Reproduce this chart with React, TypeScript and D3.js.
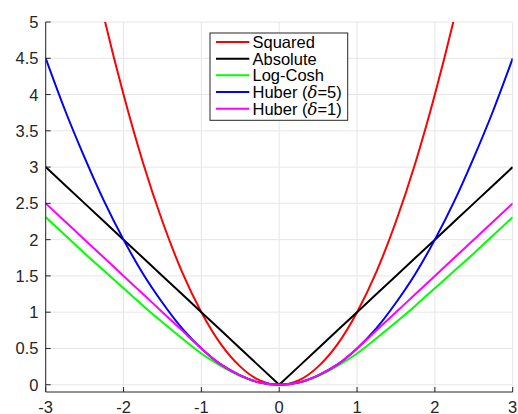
import React from "react";
import * as d3 from "d3";

const xValues = [-3, -2.75, -2.5, -2.25, -2, -1.75, -1.5, -1.25, -1, -0.75, -0.5, -0.25, 0, 0.25, 0.5, 0.75, 1, 1.25, 1.5, 1.75, 2, 2.25, 2.5, 2.75, 3];
const squared = [9, 7.56, 6.25, 5.06, 4, 3.06, 2.25, 1.56, 1, 0.56, 0.25, 0.06, 0, 0.06, 0.25, 0.56, 1, 1.56, 2.25, 3.06, 4, 5.06, 6.25, 7.56, 9];
const absolute = [3, 2.75, 2.5, 2.25, 2, 1.75, 1.5, 1.25, 1, 0.75, 0.5, 0.25, 0, 0.25, 0.5, 0.75, 1, 1.25, 1.5, 1.75, 2, 2.25, 2.5, 2.75, 3];
const logCosh = [2.31, 2.06, 1.81, 1.57, 1.33, 1.09, 0.86, 0.64, 0.43, 0.26, 0.12, 0.03, 0, 0.03, 0.12, 0.26, 0.43, 0.64, 0.86, 1.09, 1.33, 1.57, 1.81, 2.06, 2.31];
const huber5 = [4.5, 3.78, 3.13, 2.53, 2, 1.53, 1.13, 0.78, 0.5, 0.28, 0.13, 0.03, 0, 0.03, 0.13, 0.28, 0.5, 0.78, 1.13, 1.53, 2, 2.53, 3.13, 3.78, 4.5];
const huber1 = [2.5, 2.25, 2, 1.75, 1.5, 1.25, 1, 0.75, 0.5, 0.28, 0.13, 0.03, 0, 0.03, 0.13, 0.28, 0.5, 0.75, 1, 1.25, 1.5, 1.75, 2, 2.25, 2.5];

const xTicks = [-3, -2, -1, 0, 1, 2, 3];
const yTicks = [0, 0.5, 1, 1.5, 2, 2.5, 3, 3.5, 4, 4.5, 5];

const seriesNames = ["Squared", "Absolute", "Log-Cosh", "Huber (δ=5)", "Huber (δ=1)"];
const seriesValues = [squared, absolute, logCosh, huber5, huber1];
const seriesColors = ["#ff0000", "#000000", "#00ff00", "#0000ff", "#ff00ff"];

export default function App() {
  const W = 518, H = 414;
  const left = 45.7, right = 512.7, top = 22, bottom = 392;
  const x = d3.scaleLinear().domain([-3, 3]).range([left, right]);
  const y = d3.scaleLinear().domain([-0.1, 5]).range([bottom, top]);
  const axisColor = "#262626";
  const font = "'Liberation Sans', Arial, Helvetica, sans-serif";

  const makeLine = (i: number) => {
    const gen = d3
      .line<number>()
      .x((_, j) => x(xValues[j]))
      .y((v) => y(v))
      .curve(i === 1 ? d3.curveLinear : d3.curveMonotoneX);
    return gen(seriesValues[i]) || "";
  };

  const renderLabel = (name: string) => {
    const idx = name.indexOf("δ");
    if (idx < 0) return name;
    return (
      <>
        {name.slice(0, idx)}
        <tspan fontStyle="italic" fontFamily="'DejaVu Serif', serif">δ</tspan>
        {name.slice(idx + 1)}
      </>
    );
  };

  const legX = 210, legY = 33, legW = 137.7, legH = 87.3, rowH = 16.67;

  return (
    <svg width={W} height={H} style={{ position: "absolute", left: 0, top: 0, display: "block" }} fontFamily={font}>
      <rect x={0} y={0} width={W} height={H} fill="#ffffff" />
      <defs>
        <clipPath id="plotClip">
          <rect x={left} y={top} width={right - left} height={bottom - top} />
        </clipPath>
      </defs>
      {/* grid */}
      <g stroke="#e6e6e6" strokeWidth={1}>
        {xTicks.map((t) => (
          <line key={"gx" + t} x1={x(t)} x2={x(t)} y1={top} y2={bottom} />
        ))}
        {yTicks.map((t) => (
          <line key={"gy" + t} x1={left} x2={right} y1={y(t)} y2={y(t)} />
        ))}
      </g>
      {/* series */}
      <g clipPath="url(#plotClip)" fill="none" strokeWidth={2} strokeLinejoin="round">
        {seriesValues.map((_, i) => (
          <path key={i} d={makeLine(i)} stroke={seriesColors[i]} />
        ))}
      </g>
      {/* axes */}
      <g stroke={axisColor} strokeWidth={1} fill="none">
        <line x1={left} x2={left} y1={top} y2={bottom} />
        <line x1={left} x2={right} y1={bottom} y2={bottom} />
        {xTicks.map((t) => (
          <line key={"tx" + t} x1={x(t)} x2={x(t)} y1={bottom} y2={bottom - 5} />
        ))}
        {yTicks.map((t) => (
          <line key={"ty" + t} x1={left} x2={left + 5} y1={y(t)} y2={y(t)} />
        ))}
      </g>
      <g fill={axisColor} fontSize={16.5}>
        {xTicks.map((t) => (
          <text key={"lx" + t} x={x(t)} y={413} textAnchor="middle">
            {String(t)}
          </text>
        ))}
        {yTicks.map((t) => (
          <text key={"ly" + t} x={38.5} y={y(t)} textAnchor="end" dominantBaseline="central">
            {String(t)}
          </text>
        ))}
      </g>
      {/* legend */}
      <g>
        <rect x={legX} y={legY} width={legW} height={legH} fill="#ffffff" stroke="#262626" strokeWidth={1} />
        {seriesNames.map((name, i) => {
          const cy = 42 + i * rowH;
          return (
            <g key={name}>
              <line x1={216} x2={249.3} y1={cy} y2={cy} stroke={seriesColors[i]} strokeWidth={2} />
              <text x={252.5} y={cy} dominantBaseline="central" fontSize={16.5} fill="#000000">
                {renderLabel(name)}
              </text>
            </g>
          );
        })}
      </g>
    </svg>
  );
}
